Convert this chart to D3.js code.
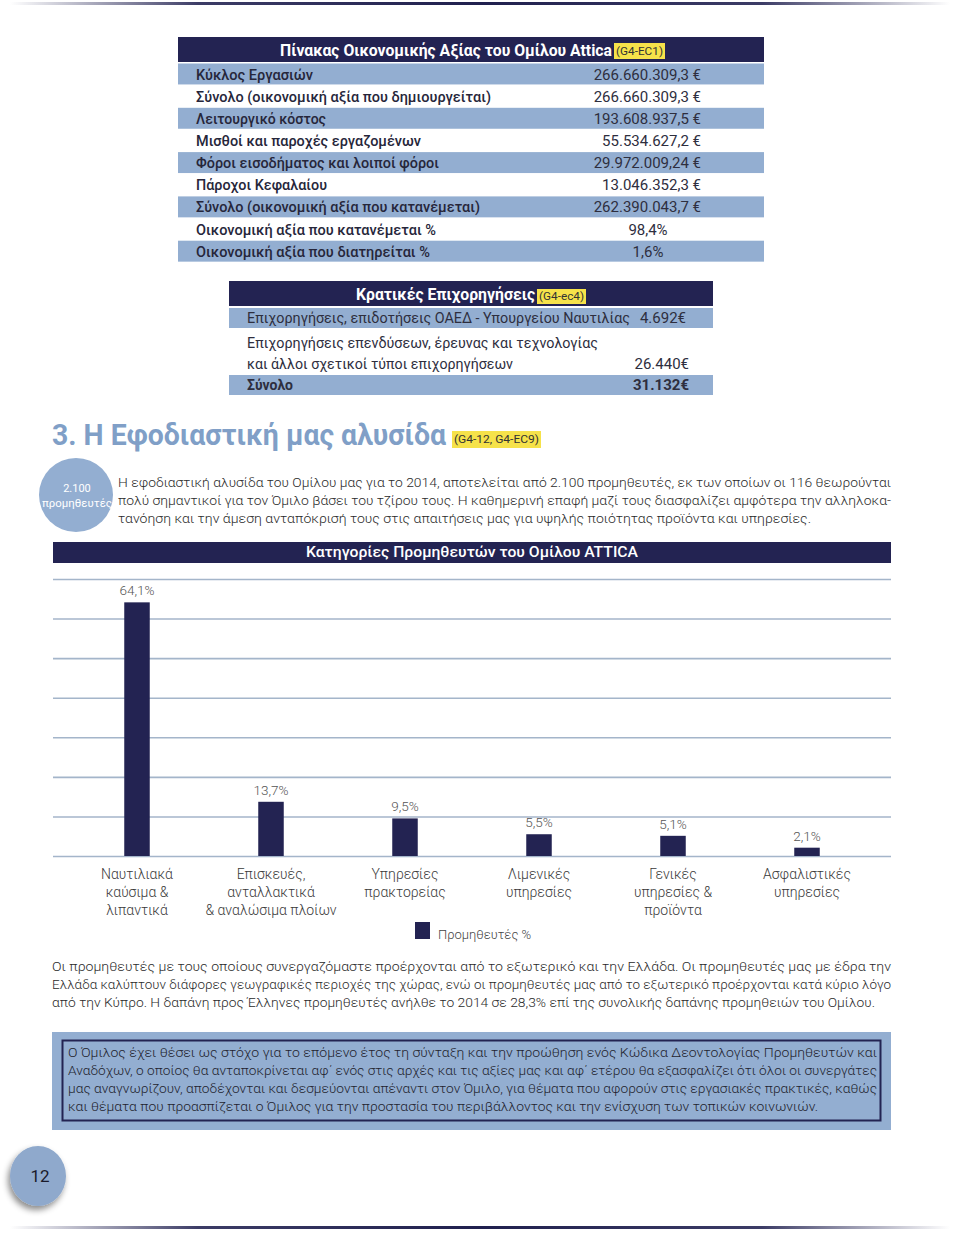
<!DOCTYPE html>
<html><head><meta charset="utf-8">
<script src="https://cdn.jsdelivr.net/npm/d3@7"></script>
<style>body{margin:0;background:#fff} svg{display:block}</style>
</head><body><svg id="c" width="960" height="1233"></svg>
<script>
// ---------- data ----------
const categories = [
  ["Ναυτιλιακά","καύσιμα &","λιπαντικά"],
  ["Επισκευές,","ανταλλακτικά","& αναλώσιμα πλοίων"],
  ["Υπηρεσίες","πρακτορείας"],
  ["Λιμενικές","υπηρεσίες"],
  ["Γενικές","υπηρεσίες &","προϊόντα"],
  ["Ασφαλιστικές","υπηρεσίες"]
];
const supplierShares = [64.1, 13.7, 9.5, 5.5, 5.1, 2.1];
const shareLabels = ["64,1%","13,7%","9,5%","5,5%","5,1%","2,1%"];
const yTicks = [0,10,20,30,40,50,60,70];
const seriesName = "Προμηθευτές %";
const chartTitle = "Κατηγορίες Προμηθευτών του Ομίλου ATTICA";

const valueTableTitle = "Πίνακας Οικονομικής Αξίας του Ομίλου Attica";
const valueTableTag = "(G4-EC1)";
const valueRowLabels = [
  "Κύκλος Εργασιών",
  "Σύνολο (οικονομική αξία που δημιουργείται)",
  "Λειτουργικό κόστος",
  "Μισθοί και παροχές εργαζομένων",
  "Φόροι εισοδήματος και λοιποί φόροι",
  "Πάροχοι Κεφαλαίου",
  "Σύνολο (οικονομική αξία που κατανέμεται)",
  "Οικονομική αξία που κατανέμεται %",
  "Οικονομική αξία που διατηρείται %"
];
const valueRowValues = [
  "266.660.309,3 €","266.660.309,3 €","193.608.937,5 €","55.534.627,2 €",
  "29.972.009,24 €","13.046.352,3 €","262.390.043,7 €","98,4%","1,6%"
];

const grantTitle = "Κρατικές Επιχορηγήσεις";
const grantTag = "(G4-ec4)";
const grantLabels = [
  ["Επιχορηγήσεις, επιδοτήσεις ΟΑΕΔ - Υπουργείου Ναυτιλίας"],
  ["Επιχορηγήσεις επενδύσεων, έρευνας και τεχνολογίας","και άλλοι σχετικοί τύποι επιχορηγήσεων"],
  ["Σύνολο"]
];
const grantValues = ["4.692€","26.440€","31.132€"];

const sectionTitle = "3. Η Εφοδιαστική μας αλυσίδα";
const sectionTag = "(G4-12, G4-EC9)";
const introLines = [
  "Η εφοδιαστική αλυσίδα του Ομίλου μας για το 2014, αποτελείται από 2.100 προμηθευτές, εκ των οποίων οι 116 θεωρούνται",
  "πολύ σημαντικοί για τον Όμιλο βάσει του τζίρου τους. Η καθημερινή επαφή μαζί τους διασφαλίζει αμφότερα την αλληλοκα-",
  "τανόηση και την άμεση ανταπόκρισή τους στις απαιτήσεις μας για υψηλής ποιότητας προϊόντα και υπηρεσίες."
];
const originLines = [
  "Οι προμηθευτές με τους οποίους συνεργαζόμαστε προέρχονται από το εξωτερικό και την Ελλάδα. Οι προμηθευτές μας με έδρα την",
  "Ελλάδα καλύπτουν διάφορες γεωγραφικές περιοχές της χώρας, ενώ οι προμηθευτές μας από το εξωτερικό προέρχονται κατά κύριο λόγο",
  "από την Κύπρο. Η δαπάνη προς Έλληνες προμηθευτές ανήλθε το 2014 σε 28,3% επί της συνολικής δαπάνης προμηθειών του Ομίλου."
];
const boxLines = [
  "Ο Όμιλος έχει θέσει ως στόχο για το επόμενο έτος τη σύνταξη και την προώθηση ενός Κώδικα Δεοντολογίας Προμηθευτών και",
  "Αναδόχων, ο οποίος θα ανταποκρίνεται αφ΄ ενός στις αρχές και τις αξίες μας και αφ΄ ετέρου θα εξασφαλίζει ότι όλοι οι συνεργάτες",
  "μας αναγνωρίζουν, αποδέχονται και δεσμεύονται απέναντι στον Όμιλο, για θέματα που αφορούν στις εργασιακές πρακτικές, καθώς",
  "και θέματα που προασπίζεται ο Όμιλος για την προστασία του περιβάλλοντος και την ενίσχυση των τοπικών κοινωνιών."
];

// ---------- layout (widths of set text lines, px) ----------
const valueLabelWidths = [117, 295, 130, 225, 243, 131, 284, 240, 234];
const grantLineWidths = [[383],[351,266],[46]];

// ---------- drawing ----------
const NAVY = "#232352", BLUE = "#93aed1", YEL = "#f6e24a", FONT = "Roboto, 'DejaVu Sans', sans-serif";
const svg = d3.select("#c").style("font-family", FONT);
const defs = svg.append("defs");
const lg = defs.append("linearGradient").attr("id","rule");
lg.append("stop").attr("offset","0%").attr("stop-color","#fff");
lg.append("stop").attr("offset","20%").attr("stop-color","#3c3c66");
lg.append("stop").attr("offset","50%").attr("stop-color","#20204e");
lg.append("stop").attr("offset","80%").attr("stop-color","#3c3c66");
lg.append("stop").attr("offset","100%").attr("stop-color","#fff");
const sh = defs.append("filter").attr("id","sh").attr("x","-50%").attr("y","-50%").attr("width","200%").attr("height","200%");
sh.append("feDropShadow").attr("dx",-2).attr("dy",4).attr("stdDeviation",3).attr("flood-color","#000").attr("flood-opacity",0.45);

svg.append("rect").attr("x",10).attr("y",2).attr("width",940).attr("height",3).attr("fill","url(#rule)");
svg.append("rect").attr("x",10).attr("y",1226).attr("width",940).attr("height",3).attr("fill","url(#rule)");

function tag(x, y, w, h, txt, fs){
  svg.append("rect").attr("x",x).attr("y",y).attr("width",w).attr("height",h).attr("fill",YEL);
  svg.append("text").attr("x",x+2).attr("y",y+h/2+fs*0.36)
    .attr("font-size",fs).attr("fill","#333").attr("textLength",w-4).attr("lengthAdjust","spacingAndGlyphs").text(txt);
}

// Table 1
const t1 = {x:178, w:586, y:37, h:25, rowY:63, rowH:22.15};
svg.append("rect").attr("x",t1.x).attr("y",t1.y).attr("width",t1.w).attr("height",t1.h).attr("fill",NAVY);
svg.append("text").attr("x",280).attr("y",55.5).attr("font-size",16).attr("font-weight",700).attr("fill","#fff")
  .attr("textLength",332).attr("lengthAdjust","spacingAndGlyphs").text(valueTableTitle);
tag(614,43,51,16,valueTableTag,11);
valueRowLabels.forEach((lab,i)=>{
  const y0 = t1.rowY + i*t1.rowH;
  if(i%2===0) svg.append("rect").attr("x",t1.x).attr("y",y0+0.5).attr("width",t1.w).attr("height",t1.rowH-1.2).attr("fill",BLUE);
  svg.append("text").attr("x",196).attr("y",y0+16.5).attr("font-size",14.5).attr("font-weight",500).attr("fill","#26263a")
    .attr("textLength",valueLabelWidths[i]).attr("lengthAdjust","spacingAndGlyphs").text(lab);
  const v = valueRowValues[i];
  const pct = v.endsWith("%");
  svg.append("text").attr("x",pct?648:701).attr("y",y0+16.5).attr("text-anchor",pct?"middle":"end")
    .attr("font-size",15).attr("fill","#2e2e3e").text(v);
});

// Table 2
svg.append("rect").attr("x",229).attr("y",281).attr("width",484).attr("height",25).attr("fill",NAVY);
svg.append("text").attr("x",356).attr("y",299.5).attr("font-size",16).attr("font-weight",700).attr("fill","#fff")
  .attr("textLength",179).attr("lengthAdjust","spacingAndGlyphs").text(grantTitle);
tag(537,289,49,15,grantTag,10.5);
svg.append("rect").attr("x",229).attr("y",308).attr("width",484).attr("height",20).attr("fill",BLUE);
svg.append("rect").attr("x",229).attr("y",375).attr("width",484).attr("height",20).attr("fill",BLUE);
const gRowY = [[323],[348,369],[390]];
grantLabels.forEach((lines,i)=>{
  lines.forEach((l,j)=>{
    svg.append("text").attr("x",247).attr("y",gRowY[i][j]).attr("font-size",14.5)
      .attr("font-weight", i===2?700:400).attr("fill","#2e2e3e")
      .attr("textLength",grantLineWidths[i][j]).attr("lengthAdjust","spacingAndGlyphs").text(l);
  });
  svg.append("text").attr("x", i===0?686:689).attr("y",gRowY[i][gRowY[i].length-1]).attr("text-anchor","end")
    .attr("font-size",15).attr("font-weight", i===2?700:400).attr("fill","#2e2e3e").text(grantValues[i]);
});

// Section title
svg.append("text").attr("x",52).attr("y",445).attr("font-size",29).attr("font-weight",700).attr("fill","#809fc7")
  .attr("textLength",394).attr("lengthAdjust","spacingAndGlyphs").text(sectionTitle);
tag(452,431,89,17,sectionTag,10.5);

// circle badge
svg.append("circle").attr("cx",76).attr("cy",495).attr("r",37).attr("fill",BLUE);
svg.append("text").attr("x",77).attr("y",492).attr("text-anchor","middle").attr("font-size",11).attr("fill","#fff").text("2.100");
svg.append("text").attr("x",77).attr("y",507).attr("text-anchor","middle").attr("font-size",11).attr("fill","#fff")
  .attr("textLength",70).attr("lengthAdjust","spacingAndGlyphs").text("προμηθευτές");

function para(lines, x, y0, lh, widths, color){
  lines.forEach((l,i)=>{
    svg.append("text").attr("x",x).attr("y",y0+i*lh).attr("font-size",13.5).attr("font-weight",300)
      .attr("fill",color||"#2a2a2a").attr("textLength",widths[i]).attr("lengthAdjust","spacingAndGlyphs").text(l);
  });
}
para(introLines, 118, 487, 18, [773,773,693]);

// Chart
svg.append("rect").attr("x",53).attr("y",542).attr("width",838).attr("height",21).attr("fill",NAVY);
svg.append("text").attr("x",472).attr("y",557).attr("text-anchor","middle").attr("font-size",15).attr("font-weight",500)
  .attr("fill","#fff").attr("textLength",332).attr("lengthAdjust","spacingAndGlyphs").text(chartTitle);

const x = d3.scaleBand().domain(d3.range(categories.length)).range([70,874]).padding(0);
const y = d3.scaleLinear().domain([0,70]).range([856,579]);
const barW = 25.5;
const grid = svg.append("g").attr("transform","translate(53,0)")
  .call(d3.axisLeft(y).tickValues(yTicks).tickSize(-838).tickFormat(""));
grid.select(".domain").remove();
grid.selectAll(".tick line").attr("stroke","#a4b5ca").attr("stroke-width",1.6);

svg.append("g").selectAll("rect").data(supplierShares).join("rect")
  .attr("x",(d,i)=>x(i)+x.bandwidth()/2-barW/2).attr("y",d=>y(d))
  .attr("width",barW).attr("height",d=>y(0)-y(d)).attr("fill",NAVY);
svg.append("g").selectAll("text").data(supplierShares).join("text")
  .attr("x",(d,i)=>x(i)+x.bandwidth()/2).attr("y",d=>y(d)-7)
  .attr("text-anchor","middle").attr("font-size",13.5).attr("font-weight",300).attr("fill","#555")
  .text((d,i)=>shareLabels[i]);
const cat = svg.append("g").selectAll("text").data(categories).join("text")
  .attr("x",(d,i)=>x(i)+x.bandwidth()/2).attr("y",879)
  .attr("text-anchor","middle").attr("font-size",14).attr("font-weight",300).attr("fill","#3a3a3a");
cat.selectAll("tspan").data(d=>d).join("tspan")
  .attr("x",function(){return d3.select(this.parentNode).attr("x");})
  .attr("dy",(d,j)=>j===0?0:18).text(d=>d);

svg.append("rect").attr("x",415).attr("y",922).attr("width",15).attr("height",17).attr("fill",NAVY);
svg.append("text").attr("x",438).attr("y",939).attr("font-size",13).attr("font-weight",300).attr("fill","#444").text(seriesName);

para(originLines, 52, 971, 18, [839,839,823]);

// box
svg.append("rect").attr("x",52).attr("y",1032).attr("width",839).attr("height",98).attr("fill",BLUE);
svg.append("rect").attr("x",62.5).attr("y",1040.5).attr("width",818).attr("height",80).attr("fill","none")
  .attr("stroke",NAVY).attr("stroke-width",2);
para(boxLines, 68, 1057, 18, [809,809,809,750], "#1f1f2e");

// page number
svg.append("ellipse").attr("cx",38).attr("cy",1176).attr("rx",28).attr("ry",30).attr("fill","#8fa9cc").attr("filter","url(#sh)");
svg.append("text").attr("x",40).attr("y",1182).attr("text-anchor","middle").attr("font-size",17).attr("fill","#1a1a2a").text("12");
</script></body></html>
